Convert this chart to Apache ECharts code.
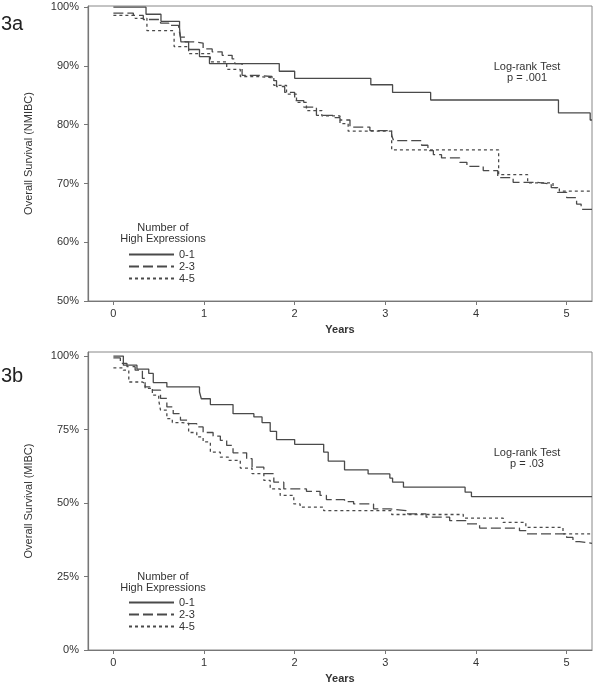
<!DOCTYPE html>
<html>
<head>
<meta charset="utf-8">
<script src="https://cdn.jsdelivr.net/npm/echarts@6/dist/echarts.min.js"></script>
<style>
html,body{margin:0;padding:0;background:#fff;}
#c{width:600px;height:687px;}
</style>
</head>
<body>
<div id="c"></div>
<script>
// ---- Data (time in years, survival %) ----
var groupNames = ['0-1', '2-3', '4-5'];
var xTicks = [0, 1, 2, 3, 4, 5];
var yTicksA = [50, 60, 70, 80, 90, 100];
var yTicksB = [0, 25, 50, 75, 100];

// 3a NMIBC
var a01 = [[0,100],[0.36,98.8],[0.525,97.6],[0.73,96.4],[0.745,94.1],[0.83,92.8],[0.95,91.6],[1.06,90.4],[1.83,89.1],[2.0,87.9],[2.84,86.8],[3.08,85.5],[3.5,84.2],[4.91,82.0],[5.26,80.8],[5.28,80.8]];
var a23 = [[0,99.0],[0.22,98.6],[0.33,97.9],[0.52,97.3],[0.61,96.9],[0.72,96.4],[0.74,94.9],[0.79,94.1],[0.88,93.9],[0.99,92.9],[1.09,92.4],[1.2,91.8],[1.31,91.2],[1.34,90.4],[1.42,88.4],[1.6,88.2],[1.75,87.5],[1.8,86.5],[1.89,85.5],[2.0,84.1],[2.1,83.0],[2.24,81.6],[2.43,81.2],[2.5,80.8],[2.61,79.6],[2.83,79.0],[3.07,78.2],[3.09,77.3],[3.4,76.5],[3.47,75.6],[3.53,74.9],[3.62,74.35],[3.82,73.6],[3.9,72.9],[4.08,72.2],[4.24,71.0],[4.41,70.2],[4.68,69.9],[4.83,69.3],[4.9,68.5],[5.0,67.6],[5.11,66.5],[5.16,65.6],[5.28,65.5]];
var a45 = [[0,98.6],[0.24,98.1],[0.37,96.0],[0.67,93.3],[0.83,92.1],[1.07,90.7],[1.25,89.4],[1.4,88.2],[1.6,88.0],[1.77,86.7],[1.91,85.2],[2.02,83.8],[2.13,82.4],[2.3,81.5],[2.5,80.2],[2.59,78.9],[3.07,75.7],[4.25,71.5],[4.57,70.1],[4.85,69.3],[4.92,68.7],[5.28,68.7]];

// 3b MIBC
var b01 = [[0,100],[0.11,96.9],[0.26,95.6],[0.39,94.1],[0.44,91.0],[0.59,89.5],[0.95,87.8],[0.97,85.5],[1.07,83.5],[1.32,80.4],[1.55,79.3],[1.64,77.4],[1.73,74.4],[1.8,71.6],[2.0,70.0],[2.32,67.3],[2.37,64.3],[2.55,61.3],[2.81,59.9],[3.05,58.5],[3.08,57.1],[3.2,55.4],[3.88,53.7],[3.95,52.2],[5.28,52.2]];
var b23 = [[0,99.4],[0.077,97.5],[0.15,96.4],[0.24,95.2],[0.32,92.4],[0.35,89.5],[0.43,88.4],[0.52,85.6],[0.59,82.7],[0.66,80.4],[0.74,78.2],[0.83,77.0],[0.92,75.9],[0.99,74.0],[1.1,72.8],[1.18,71.3],[1.25,69.6],[1.32,67.1],[1.47,65.1],[1.53,62.2],[1.66,60.0],[1.77,57.1],[1.88,54.8],[2.13,54.0],[2.28,52.6],[2.35,51.2],[2.55,50.5],[2.65,49.7],[2.87,48.0],[3.05,47.4],[3.23,46.3],[3.45,45.2],[3.71,44.0],[3.9,42.9],[4.04,41.5],[4.48,40.6],[4.56,39.5],[5.0,38.3],[5.07,36.9],[5.14,36.3],[5.28,36.3]];
var b45 = [[0,96.0],[0.11,95.2],[0.17,91.2],[0.32,90.7],[0.35,89.0],[0.43,86.7],[0.5,85.0],[0.52,81.6],[0.59,78.7],[0.65,77.4],[0.76,77.0],[0.83,74.0],[0.92,72.5],[0.99,70.8],[1.07,67.3],[1.18,65.6],[1.27,64.5],[1.4,61.9],[1.53,60.0],[1.66,57.7],[1.73,54.8],[1.84,52.6],[1.99,49.7],[2.06,48.6],[2.32,47.4],[3.07,46.1],[3.86,44.9],[4.3,43.4],[4.55,41.7],[4.96,39.5],[5.28,39.5]];

var FONT = 'Liberation Sans, Arial, sans-serif';
var TXT = '#333';
var LINE = '#4a4a4a';
var AX = '#777';

var lineStyles = [
  {type: 'solid', width: 1.3, color: LINE},
  {type: [10, 4], width: 1.3, color: LINE},
  {type: [3, 3], width: 1.3, color: LINE}
];

function xAxisDef(gi) {
  return {
    type: 'value', gridIndex: gi, min: -0.28, max: 5.28,
    name: 'Years', nameLocation: 'middle', nameGap: 23,
    nameTextStyle: {fontFamily: FONT, fontSize: 11, fontWeight: 'bold', color: TXT},
    axisLine: {show: true, onZero: false, lineStyle: {color: AX, width: 1.2}},
    axisTick: {show: true, inside: false, length: 4, customValues: xTicks, lineStyle: {color: AX}},
    axisLabel: {show: true, margin: 7, customValues: xTicks, fontFamily: FONT, fontSize: 11, color: TXT},
    splitLine: {show: false}
  };
}
function yAxisDef(gi, min, max, ticks, name) {
  return {
    type: 'value', gridIndex: gi, min: min, max: max,
    name: name, nameLocation: 'middle', nameRotate: 90, nameGap: 54,
    nameTextStyle: {fontFamily: FONT, fontSize: 11, color: TXT},
    axisLine: {show: true, onZero: false, lineStyle: {color: AX, width: 1.2}},
    axisTick: {show: true, inside: false, length: 4, customValues: ticks, lineStyle: {color: AX}},
    axisLabel: {show: true, margin: 9, customValues: ticks, formatter: '{value}%', fontFamily: FONT, fontSize: 11, color: TXT},
    splitLine: {show: false}
  };
}

var sets = [[a01, a23, a45], [b01, b23, b45]];
var series = [];
sets.forEach(function (grp, gi) {
  grp.forEach(function (d, k) {
    series.push({
      type: 'line', name: groupNames[k], xAxisIndex: gi, yAxisIndex: gi,
      step: 'end', symbol: 'none', data: d, lineStyle: lineStyles[k],
      itemStyle: {color: LINE}, silent: true, z: 3 - k
    });
  });
});

function legendDef(top) {
  return {
    data: groupNames, orient: 'vertical', left: 128, top: top,
    itemWidth: 45, itemHeight: 10, itemGap: 1, padding: 0,
    selectedMode: false,
    itemStyle: {opacity: 0},
    textStyle: {fontFamily: FONT, fontSize: 11, color: TXT, lineHeight: 10}
  };
}

function txt(text, left, top, size, align, lh, weight, color) {
  return {
    text: text, left: left, top: top, textAlign: align || 'left', padding: 0,
    textStyle: {fontFamily: FONT, fontSize: size, fontWeight: weight || 'normal', color: color || TXT, lineHeight: lh || size}
  };
}

var chart = echarts.init(document.getElementById('c'), null, {renderer: 'canvas'});
chart.setOption({
  animation: false,
  backgroundColor: '#fff',
  title: [
    txt('3a', 1, 14, 20, 'left', 20, 'normal', '#222'),
    txt('3b', 1, 366, 20, 'left', 20, 'normal', '#222'),
    txt('Log-rank Test\np = .001', 527, 61, 11, 'center', 11),
    txt('Log-rank Test\np = .03', 527, 447, 11, 'center', 11),
    txt('Number of\nHigh Expressions', 163, 222, 11, 'center', 11),
    txt('Number of\nHigh Expressions', 163, 571, 11, 'center', 11)
  ],
  legend: [legendDef(249), legendDef(597)],
  grid: [
    {left: 88, right: 8, top: 6, height: 295, show: true, borderColor: '#888', borderWidth: 1, backgroundColor: 'transparent'},
    {left: 88, right: 8, top: 352, height: 298, show: true, borderColor: '#888', borderWidth: 1, backgroundColor: 'transparent'}
  ],
  xAxis: [xAxisDef(0), xAxisDef(1)],
  yAxis: [
    yAxisDef(0, 50, 100.2, yTicksA, 'Overall Survival (NMIBC)'),
    yAxisDef(1, 0, 101.4, yTicksB, 'Overall Survival (MIBC)')
  ],
  series: series
});
</script>
</body>
</html>
